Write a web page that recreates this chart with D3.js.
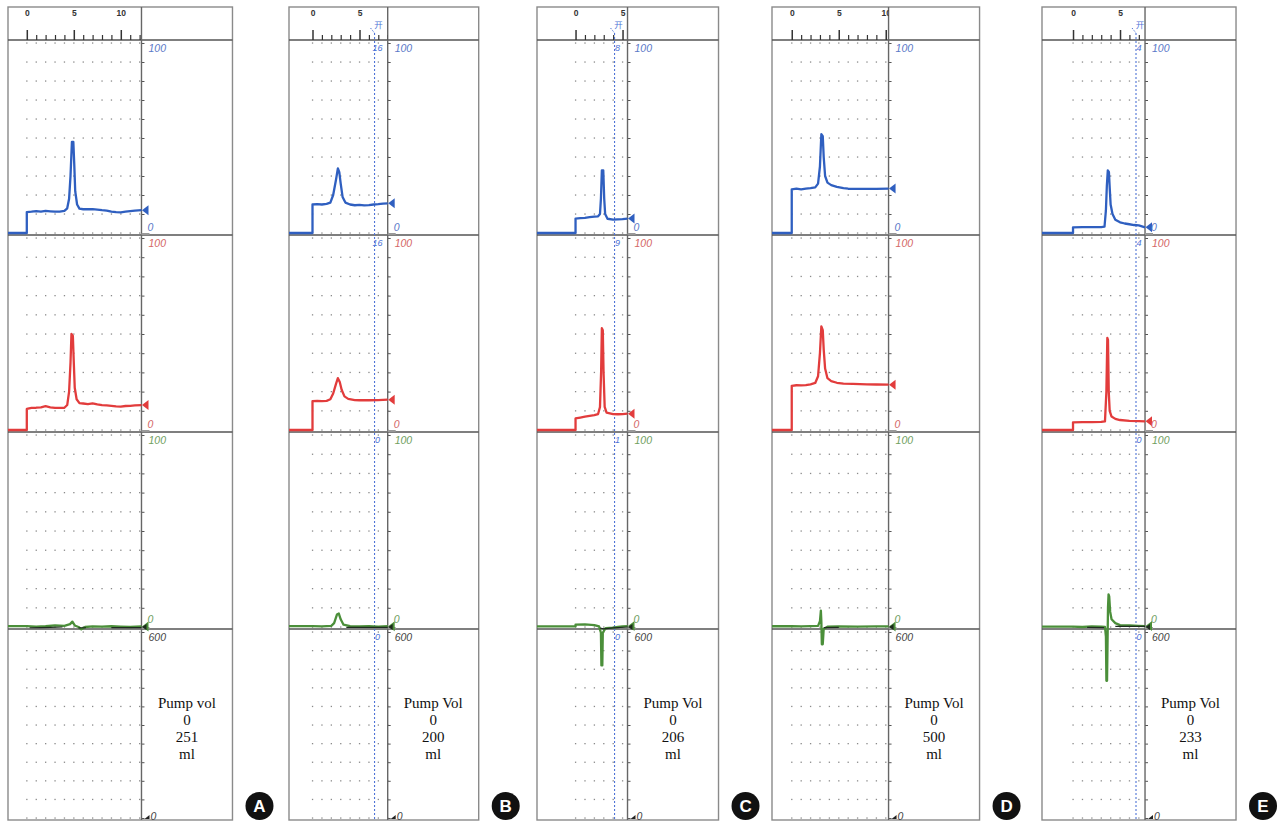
<!DOCTYPE html>
<html>
<head>
<meta charset="utf-8">
<script src="https://cdn.jsdelivr.net/npm/d3@7"></script>
<style>
  body { margin: 0; background: #fff; }
  svg { display: block; }
</style>
</head>
<body>
<svg id="chart"></svg>
<script>
// ---- data ----
var panelNames = ["A", "B", "C", "D", "E"];
var tStart = [-2, -2.5, -4.1, -2.1, -3.3];
var tEnd = [12.2, 8.0, 5.53, 10.3, 7.66];
var pumpLabel = ["Pump vol", "Pump Vol", "Pump Vol", "Pump Vol", "Pump Vol"];
var pumpZero = ["0", "0", "0", "0", "0"];
var pumpVol = ["251", "200", "206", "500", "233"];
var pumpUnit = ["ml", "ml", "ml", "ml", "ml"];
var cursorT = [null, 6.6, 4.15, null, 6.7];
var cursorLabels = [null, ["16", "16", "0", "0"], ["8", "9", "1", "0"], null, ["4", "4", "0", "0"]];
var cursorMark = "开";
var scaleTop = ["100", "100", "100", "600"];
var scaleBottom = ["0", "0", "0", "0"];

var blueA = [[-2,0],[0,0],[0,11],[0.5,11.2],[1,11.5],[1.5,11.2],[2,11.6],[2.5,11.4],[3,11.2],[3.5,11.3],[4,11.6],[4.3,13],[4.5,18],[4.65,30],[4.8,48],[4.95,48],[5.05,36],[5.15,22],[5.35,15],[5.6,12.8],[6,12.5],[7,12.6],[7.5,12.3],[8,12],[8.5,11.8],[9,11.3],[9.5,11],[10,10.9],[10.5,11.2],[11,11.5],[11.5,11.8],[12.2,12]];
var redA = [[-2,0],[0,0],[0,11],[0.5,11.5],[1,11.6],[1.5,11.8],[2,12.4],[2.5,11.8],[3,11.5],[3.5,11.5],[4,11.6],[4.3,13],[4.5,20],[4.65,35],[4.75,50],[4.9,49],[5,35],[5.1,22],[5.3,16],[5.6,14],[6,13.8],[6.5,13.5],[7,13.9],[7.5,13.4],[8,13],[8.5,12.8],[9,12.6],[9.5,12.3],[10,12.2],[10.5,12.5],[11,12.6],[11.5,12.8],[12.2,13]];
var greenA = [[-2,0.5],[0,0.5],[1,0.2],[2,0.4],[3,0.8],[4,0.6],[4.6,1.5],[4.85,2.8],[5.1,0.8],[5.5,0],[5.8,-1.2],[6.2,0],[7,0.3],[8,0.2],[9,0.4],[10,0.2],[11,0],[12.2,0.3]];
var darkA = [[0.3,-0.4],[1.5,-0.3],[2.5,-0.2],[3.8,0],[4,null],[5.5,-0.5],[6.3,-0.4],[6.5,null],[9,-0.3],[12.2,-0.3]];

var blueB = [[-2.5,0],[0,0],[0,15],[0.5,15.2],[1,15],[1.5,15.3],[1.9,16],[2.2,20],[2.5,28],[2.7,34],[2.85,32],[3,26],[3.2,19],[3.5,16],[4,15],[4.5,14.6],[5,14.8],[5.5,14.5],[6,14.7],[6.5,15],[7,15.2],[7.5,15.5],[8,15.6]];
var redB = [[-2.5,0],[0,0],[0,15],[0.5,15.1],[1,15],[1.5,15.2],[1.9,16],[2.2,19],[2.5,24],[2.7,27],[2.9,25],[3.1,21],[3.4,17.5],[3.8,16.2],[4.5,15.6],[5,15.5],[6,15.5],[7,15.6],[8,15.8]];
var greenB = [[-2.5,0.5],[0,0.5],[1,0.3],[2,0.6],[2.3,2],[2.6,6.5],[2.8,7],[3,4],[3.3,1.2],[4,0.5],[5,0.3],[6,0.4],[7,0.2],[8,0.4]];
var darkB = [[3.6,-0.2],[8,-0.2]];

var blueC = [[-4.1,0],[0,0],[0,7.6],[0.5,7.8],[1,8],[1.5,8.3],[2,8.6],[2.4,8.8],[2.6,10],[2.7,18],[2.8,33],[2.95,33],[3.05,18],[3.15,10],[3.4,7.5],[4,7],[4.5,7.2],[5,7.3],[5.53,7.6]];
var redC = [[-4.1,0],[0,0],[0,6],[0.5,6.5],[1,7],[1.5,7.4],[2,7.8],[2.4,8.3],[2.6,12],[2.72,30],[2.8,53],[2.9,52],[2.98,30],[3.1,12],[3.3,9],[4,8.3],[4.5,8.2],[5,8.3],[5.53,8.5]];
var greenC = [[-4.1,0.3],[0,0.3],[0,1.2],[1,1.4],[2,1],[2.5,0.3],[2.7,-3],[2.75,-20],[2.85,-20],[2.9,-3],[3.2,-0.6],[4,-0.3],[4.5,0],[5,0.3],[5.53,0.5]];
var darkC = [[2.6,-0.5],[3,-1],[4,-0.5],[5.53,0]];

var blueD = [[-2.1,0],[0,0],[0,23],[0.5,23.3],[1,23],[1.5,23.4],[2,23.6],[2.5,24],[2.8,26],[3,35],[3.15,52],[3.3,51],[3.4,40],[3.55,30],[3.8,26.5],[4.2,25.2],[4.8,24.3],[5.5,23.6],[6,23.3],[7,23.2],[8,23.2],[9,23.2],[10.3,23.4]];
var redD = [[-2.1,0],[0,0],[0,23],[0.5,23.3],[1,23.2],[1.5,23.4],[2,23.8],[2.5,24.5],[2.8,28],[3,40],[3.15,54],[3.3,52],[3.4,42],[3.55,32],[3.8,27],[4.2,25.5],[4.8,24.6],[5.5,24.2],[6.5,24],[8,23.8],[9,23.7],[10.3,23.6]];
var greenD = [[-2.1,0.4],[0,0.4],[1,0.3],[2,0.5],[2.8,0.6],[3,3],[3.1,8.5],[3.15,3],[3.2,-9],[3.3,-9],[3.4,-1],[3.8,0.2],[5,0.3],[7,0.2],[9,0.3],[10.3,0.3]];
var darkD = [[3.4,-0.3],[5,-0.2]];

var blueE = [[-3.3,0],[0,0],[0,3],[1,3.1],[2,3.1],[3,3.1],[3.35,3.3],[3.5,12],[3.6,25],[3.7,33],[3.82,32],[3.9,24],[4,15],[4.2,10],[4.5,7],[5,5.6],[5.5,5],[6,4.6],[6.5,4.2],[7,4],[7.66,3]];
var redE = [[-3.3,0],[0,0],[0,4],[1,4.1],[2,4.1],[3,4.2],[3.4,4.5],[3.55,20],[3.65,48],[3.72,47],[3.8,20],[3.9,10],[4.1,7],[4.5,5.8],[5,5.2],[6,4.8],[7,4.6],[7.66,4.5]];
var greenE = [[-3.3,0.2],[0,0.2],[1,0],[2,0.3],[3,0.2],[3.4,0],[3.5,-5],[3.55,-28],[3.62,-28],[3.68,-5],[3.72,10],[3.78,17],[3.85,16],[3.95,8],[4.1,4],[4.5,2],[5,1],[6,0.8],[7,0.6],[7.66,0.5]];
var darkE = [[1.5,-0.2],[3.3,-0.3],[3.4,null],[4.5,0.3],[7.66,0.3]];

var blueSeries = [blueA, blueB, blueC, blueD, blueE];
var redSeries = [redA, redB, redC, redD, redE];
var greenSeries = [greenA, greenB, greenC, greenD, greenE];
var darkSeries = [darkA, darkB, darkC, darkD, darkE];

// ---- layout ----
var panelLeft = [8, 289, 537, 772, 1042];
var pxPerUnit = 9.4;
var rightW = 91;
var frameTop = 7;
var sec = [40, 235, 432, 629, 820];
var traceColor = ["#2f5fc0", "#e23c3c", "#4b8f3a"];
var labelColor = ["#5a78c8", "#d46666", "#6f9e5e", "#444"];
var cursorColor = "#4f74d6";

var svg = d3.select("#chart").attr("width", 1287).attr("height", 823);

panelNames.forEach(function(name, i) {
  var left = panelLeft[i];
  var x = d3.scaleLinear()
      .domain([tStart[i], tEnd[i]])
      .range([left, left + (tEnd[i] - tStart[i]) * pxPerUnit]);
  var div = x(tEnd[i]);
  var right = div + rightW;
  var g = svg.append("g").attr("class", "panel-" + name);

  var ys = [0, 1, 2].map(function(k) {
    return d3.scaleLinear().domain([0, 100]).range([sec[k + 1] - 2, sec[k] + 3]);
  });
  ys.push(d3.scaleLinear().domain([0, 600]).range([sec[4] - 2, sec[3] + 3]));

  // dotted grid
  var cols = d3.range(0, Math.floor(tEnd[i]) + 1);
  ys.forEach(function(y, k) {
    var rows = k < 3 ? d3.range(0, 101, 10) : d3.range(0, 601, 60);
    var pts = [];
    rows.forEach(function(r) { cols.forEach(function(c) { pts.push([c, r]); }); });
    g.append("g").selectAll("rect").data(pts).enter().append("rect")
        .attr("x", function(d) { return x(d[0]) - 0.6; })
        .attr("y", function(d) { return y(d[1]) - 0.6; })
        .attr("width", 1.3).attr("height", 1.3)
        .attr("fill", "#8a8a8a");

    // small ticks right of the divider
    g.append("g")
        .attr("transform", "translate(" + div + ",0)")
        .call(d3.axisRight(y).tickValues(rows).tickSize(3).tickFormat(""))
        .call(function(a) {
          a.select(".domain").remove();
          a.selectAll("line").attr("stroke", "#555");
        });
  });

  // frame + section lines
  g.append("rect")
      .attr("x", left).attr("y", frameTop)
      .attr("width", right - left).attr("height", sec[4] - frameTop)
      .attr("fill", "none").attr("stroke", "#8a8a8a").attr("stroke-width", 1.4);
  sec.slice(0, 4).forEach(function(s) {
    g.append("line").attr("x1", left).attr("x2", right).attr("y1", s).attr("y2", s)
        .attr("stroke", "#555").attr("stroke-width", 1.4);
  });
  g.append("line").attr("x1", div).attr("x2", div).attr("y1", frameTop).attr("y2", sec[4])
      .attr("stroke", "#666").attr("stroke-width", 1.4);

  // zero stubs
  [0, 1, 2].forEach(function(k) {
    g.append("line").attr("x1", div).attr("x2", div + 8)
        .attr("y1", ys[k](0) + 1).attr("y2", ys[k](0) + 1)
        .attr("stroke", "#999").attr("stroke-width", 2);
  });

  // ruler
  var clipId = "clip" + name;
  svg.append("clipPath").attr("id", clipId).append("rect")
      .attr("x", left).attr("y", frameTop).attr("width", div - left).attr("height", sec[0] - frameTop);
  var ruler = g.append("g").attr("clip-path", "url(#" + clipId + ")");
  ruler.append("g")
      .attr("transform", "translate(0," + sec[0] + ")")
      .call(d3.axisTop(x).tickValues(cols.filter(function(c) { return c % 5 !== 0; })).tickSize(5).tickFormat(""))
      .call(function(a) { a.select(".domain").remove(); a.selectAll("line").attr("stroke", "#333").attr("stroke-width", 1.2); });
  ruler.append("g")
      .attr("transform", "translate(0," + sec[0] + ")")
      .call(d3.axisTop(x).tickValues(cols.filter(function(c) { return c % 5 === 0; })).tickSize(10).tickPadding(14).tickFormat(d3.format("d")))
      .call(function(a) {
        a.select(".domain").remove();
        a.selectAll("line").attr("stroke", "#333").attr("stroke-width", 1.5);
        a.selectAll("text").attr("fill", "#333").attr("font-size", 8.5).attr("font-weight", "bold")
            .attr("font-family", "Liberation Sans, Arial, sans-serif");
      });

  // cursor
  if (cursorT[i] !== null) {
    var cx = x(cursorT[i]);
    g.append("line").attr("x1", cx - 4).attr("y1", 28).attr("x2", cx).attr("y2", 33)
        .attr("stroke", cursorColor).attr("stroke-width", 1).attr("stroke-dasharray", "1.5,1.5");
    g.append("line").attr("x1", cx).attr("x2", cx).attr("y1", 33).attr("y2", sec[4])
        .attr("stroke", cursorColor).attr("stroke-width", 1.1).attr("stroke-dasharray", "2,2");
    g.append("text").attr("x", cx + 4).attr("y", 27.5).attr("text-anchor", "middle")
        .attr("fill", cursorColor).attr("font-size", 8.5)
        .attr("font-family", "Noto Sans CJK SC, sans-serif").text(cursorMark);
    cursorLabels[i].forEach(function(lb, k) {
      g.append("text").attr("x", cx + 3).attr("y", sec[k] + 11).attr("text-anchor", "middle")
          .attr("fill", cursorColor).attr("font-size", 9).attr("font-style", "italic")
          .attr("font-family", "Liberation Sans, Arial, sans-serif").text(lb);
    });
  }

  // traces
  var series = [blueSeries[i], redSeries[i], greenSeries[i]];
  series.forEach(function(data, k) {
    var line = d3.line()
        .defined(function(d) { return d[1] !== null; })
        .x(function(d) { return x(d[0]); })
        .y(function(d) { return ys[k](d[1]); });
    g.append("path").datum(data)
        .attr("fill", "none").attr("stroke", traceColor[k])
        .attr("stroke-width", 2.3).attr("stroke-linejoin", "round")
        .attr("d", line);
    var last = ys[k](data[data.length - 1][1]);
    g.append("path")
        .attr("d", "M" + (div + 0.5) + "," + last + "L" + (div + 7) + "," + (last - 5) + "L" + (div + 7) + "," + (last + 5) + "Z")
        .attr("fill", traceColor[k]);
  });
  var darkLine = d3.line()
      .defined(function(d) { return d[1] !== null; })
      .x(function(d) { return x(d[0]); })
      .y(function(d) { return ys[2](d[1]); });
  g.append("path").datum(darkSeries[i])
      .attr("fill", "none").attr("stroke", "#1d2b1d").attr("stroke-width", 1.2)
      .attr("d", darkLine);
  g.append("path")
      .attr("d", "M" + (div + 0.5) + "," + ys[2](0) + "L" + (div + 5) + "," + (ys[2](0) - 3) + "L" + (div + 5) + "," + (ys[2](0) + 3) + "Z")
      .attr("fill", "#1d2b1d");

  // scale labels
  [0, 1, 2, 3].forEach(function(k) {
    g.append("text").attr("x", div + 7).attr("y", sec[k] + 12)
        .attr("fill", labelColor[k]).attr("font-size", 10.5).attr("font-style", "italic")
        .attr("font-family", "Liberation Sans, Arial, sans-serif").text(scaleTop[k]);
    g.append("text").attr("x", div + (k === 3 ? 9 : 6)).attr("y", sec[k + 1] - (k === 3 ? 0 : (k === 2 ? 6 : 4)))
        .attr("fill", labelColor[k]).attr("font-size", 10.5).attr("font-style", "italic")
        .attr("font-family", "Liberation Sans, Arial, sans-serif").text(scaleBottom[k]);
  });
  g.append("path")
      .attr("d", "M" + (div + 3) + "," + (sec[4] - 1) + "L" + (div + 8) + "," + (sec[4] - 5) + "L" + (div + 8) + "," + (sec[4] - 1) + "Z")
      .attr("fill", "#222");

  // pump volume text
  var tx = (div + right) / 2;
  [pumpLabel[i], pumpZero[i], pumpVol[i], pumpUnit[i]].forEach(function(t, j) {
    g.append("text").attr("x", tx).attr("y", 708 + j * 17).attr("text-anchor", "middle")
        .attr("fill", "#111").attr("font-size", 15)
        .attr("font-family", "Liberation Serif, Times New Roman, serif").text(t);
  });

  // panel letter
  g.append("circle").attr("cx", right + 27).attr("cy", 806).attr("r", 14).attr("fill", "#111");
  g.append("text").attr("x", right + 27).attr("y", 812).attr("text-anchor", "middle")
      .attr("fill", "#fff").attr("font-size", 17).attr("font-weight", "bold")
      .attr("font-family", "Liberation Sans, Arial, sans-serif").text(name);
});
</script>
</body>
</html>
